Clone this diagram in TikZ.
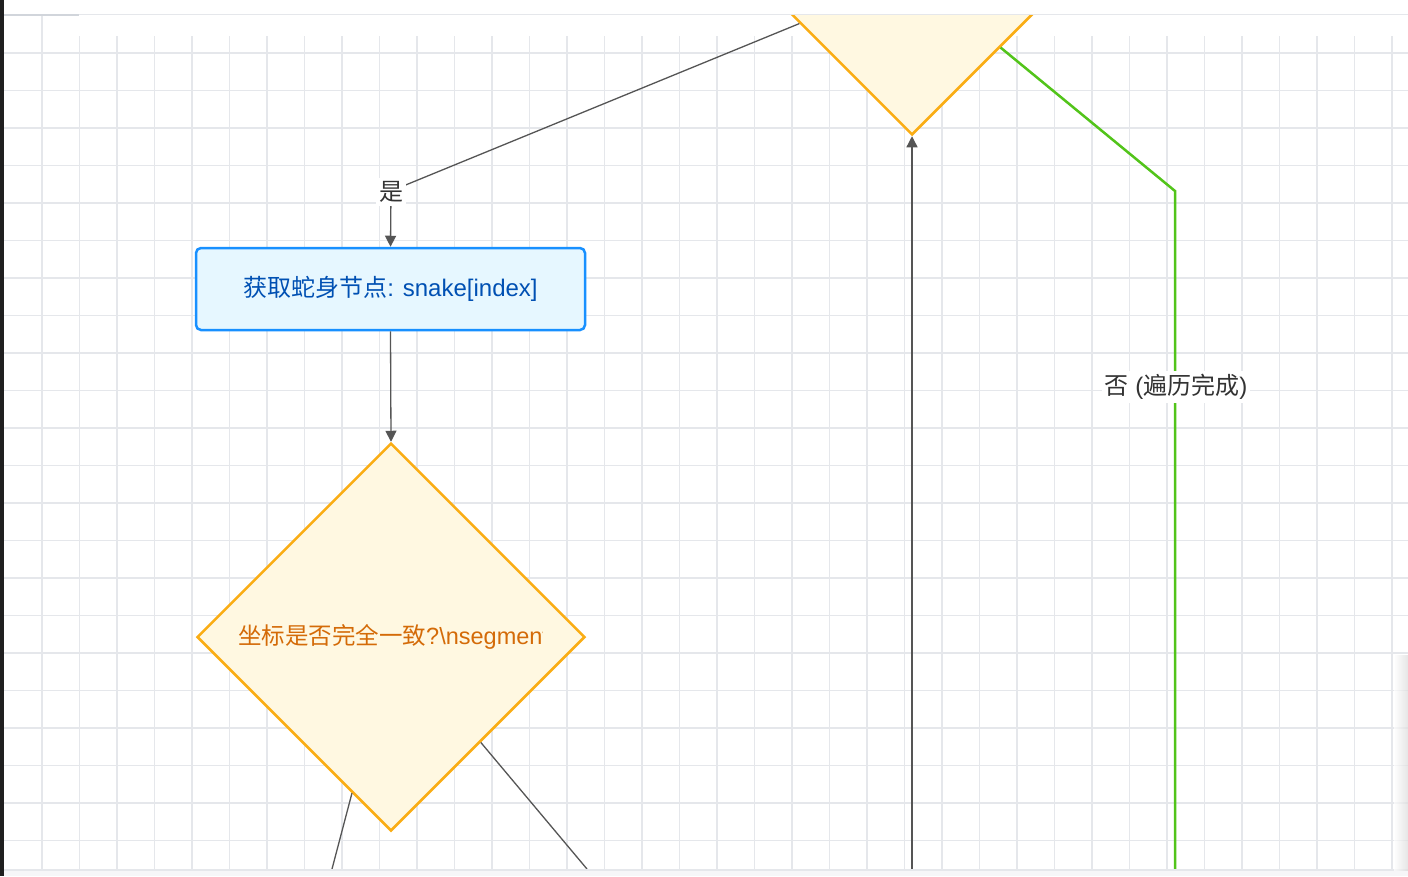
\documentclass[tikz,border=0pt]{standalone}
\usepackage{fontspec}
\setmainfont{Liberation Sans}
\newfontfamily\cjk{Noto Sans CJK SC}
\usetikzlibrary{arrows.meta,shapes.geometric,calc}
\definecolor{gridc}{HTML}{E5E7EB}
\definecolor{topdark}{HTML}{D1D5DB}
\definecolor{bottomc}{HTML}{F6F6F8}
\definecolor{leftbar}{HTML}{1F1F1F}
\definecolor{decborder}{HTML}{FAAD14}
\definecolor{decfill}{HTML}{FFF8E1}
\definecolor{dectext}{HTML}{D46B08}
\definecolor{procborder}{HTML}{1890FF}
\definecolor{procfill}{HTML}{E6F7FF}
\definecolor{proctext}{HTML}{0050B3}
\definecolor{connc}{HTML}{555555}
\definecolor{greenc}{HTML}{52C41A}
\definecolor{labeltext}{HTML}{333333}
\tikzset{
  gridline/.style={draw=gridc, line width=1.8pt},
  decision/.style={diamond, draw=decborder, fill=decfill, line width=2.5pt, inner sep=0pt, aspect=1},
  procbox/.style={rectangle, rounded corners=5pt, draw=procborder, fill=procfill, line width=2.5pt, text=proctext, font=\fontsize{24}{28}\selectfont},
  dtext/.style={text=dectext, inner sep=0pt, font=\fontsize{23.5}{28}\selectfont},
  conn/.style={draw=connc, line width=1.3pt},
  arrowed/.style={-{Triangle[length=11pt,width=11pt]}},
  greenline/.style={draw=greenc, line width=2.5pt},
  edgelabel/.style={fill=white, text=labeltext, inner sep=3pt, font=\fontsize{24}{28}\selectfont}
}
\begin{document}
\begin{tikzpicture}[x=1pt,y=-1pt]
\useasboundingbox (0,0) rectangle (1408,876);
\fill[white] (0,0) rectangle (1408,876);
% grid
\foreach \k in {0,...,21} {
  \draw[gridline] (4,{53+37.5*\k}) -- (1408,{53+37.5*\k});
}
\draw[gridline] (42,14) -- (42,870);
\foreach \k in {1,...,36} {
  \draw[gridline] ({42+37.5*\k},36) -- ({42+37.5*\k},870);
}
% nodes
\begin{scope}
  \clip (4,15) rectangle (1408,870);
  \node[decision, minimum width=388pt, minimum height=388pt] (d1) at (912,-59) {};
\end{scope}
\node[procbox, minimum width=389pt, minimum height=82pt] (p1) at (390.5,289) {{\cjk 获取蛇身节点}: snake[index]};
\node[decision, minimum width=388pt, minimum height=388pt] (d2) at (391,637) {};
\begin{scope}
  \clip (230,600) rectangle (542,680);
  \node[dtext, anchor=west] (d2t) at (238,637) {{\cjk 坐标是否完全一致}?\textbackslash nsegment};
\end{scope}
% coordinates
\coordinate (c1) at (391,191);
\coordinate (g1) at (1175,191);
\coordinate (g2) at (1175,869);
\coordinate (b1) at (912,869);
\coordinate (e1) at (332,869);
\coordinate (e2) at (587,869);
% connectors
\draw[conn, arrowed] ($(d1.west)!0.423!(d1.south)$) -- (c1) -- (p1.north);
\draw[conn, arrowed] (p1.south) -- (d2.north);
\draw[conn, arrowed] (b1) -- (d1.south);
\draw[greenline] ($(d1.south)!0.454!(d1.east)$) -- (g1) -- (g2);
\draw[conn] ($(d2.west)!0.8!(d2.south)$) -- (e1);
\draw[conn] ($(d2.east)!0.54!(d2.south)$) -- (e2);
% labels
\node[edgelabel] (lyes) at (391,192) {\cjk 是};
\node[edgelabel] (lno) at (1176,387) {{\cjk 否} ({\cjk 遍历完成})};
% frame
\fill[bottomc] (4,870) rectangle (1408,876);
\draw[gridc, line width=1.2pt] (4,870) -- (1408,870);
\fill[white] (4,0) rectangle (1408,13.5);
\draw[gridc, line width=1.6pt] (4,14.5) -- (1408,14.5);
\draw[topdark, line width=2.2pt] (4,15) -- (79,15);
\fill[leftbar] (0,0) rectangle (4,876);
\shade[left color=white, right color=black!14, opacity=0.7] (1394,655) rectangle (1408,870);
\end{tikzpicture}
\end{document}
